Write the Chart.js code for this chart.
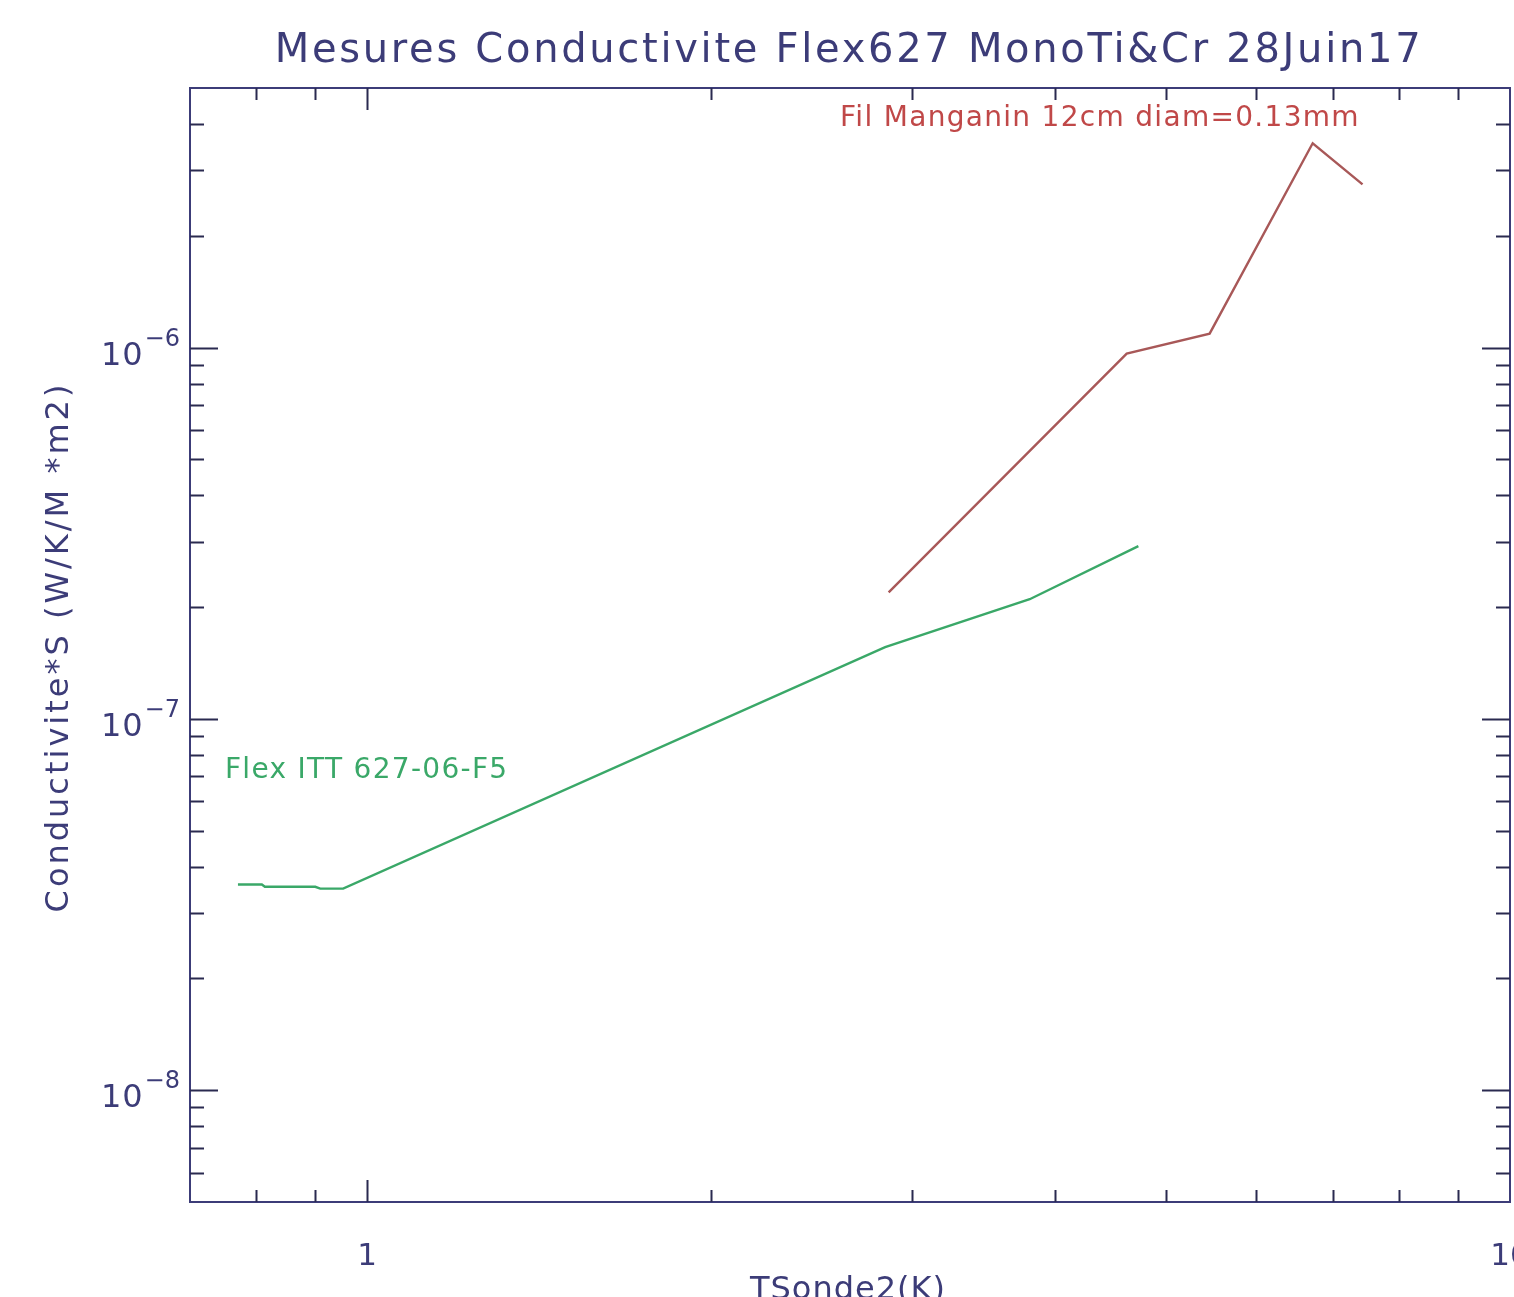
<!DOCTYPE html>
<html>
<head>
<meta charset="utf-8">
<script src="https://cdn.jsdelivr.net/npm/chart.js@4"></script>
<style>
  body { margin: 0; background: #fff; }
</style>
</head>
<body>
<canvas id="chart" width="1514" height="1297"></canvas>
<script>
const titleText = "Mesures Conductivite Flex627 MonoTi&Cr 28Juin17";
const xTitle = "TSonde2(K)";
const yTitle = "Conductivite*S (W/K/M *m2)";

// Flex ITT sample
const flexLabel = "Flex ITT 627-06-F5";
const flexT = [0.771, 0.809, 0.814, 0.901, 0.910, 0.953, 2.84, 3.80, 4.73];
const flexK = [3.58e-8, 3.58e-8, 3.53e-8, 3.53e-8, 3.49e-8, 3.49e-8, 1.56e-7, 2.10e-7, 2.92e-7];

// manganin wire reference
const wireLabel = "Fil Manganin 12cm diam=0.13mm";
const wireT = [2.86, 4.62, 5.46, 6.72, 7.43];
const wireK = [2.19e-7, 9.63e-7, 1.09e-6, 3.55e-6, 2.75e-6];

// where the two labels sit (data coords)
const flexLabelAt = [0.751, 7.26e-8];
const wireLabelAt = [2.593, 4.13e-6];

const xMajor = [1, 10];
const xTickLabels = ["1", "10"];
const yMajor = [1e-8, 1e-7, 1e-6];
const yExponents = ["−8", "−7", "−6"];

const axisColor = "#3c3c78";
const font = "DejaVu Sans";

function minorTicks(min, max) {
    let out = [];
    for (let d = Math.floor(Math.log10(min)); d <= Math.ceil(Math.log10(max)); d++) {
        for (let m = 1; m <= 9; m++) {
            const v = m * Math.pow(10, d);
            if (v > min * 1.0001 && v < max * 0.9999) out.push({ v, major: m === 1 });
        }
    }
    return out;
}

const framePlugin = {
    id: "frame",
    afterDraw(chart) {
        const ctx = chart.ctx;
        const a = chart.chartArea;
        const xs = chart.scales.x, ys = chart.scales.y;
        ctx.save();
        ctx.strokeStyle = axisColor;
        ctx.lineWidth = 2;
        ctx.strokeRect(a.left, a.top, a.right - a.left, a.bottom - a.top);

        ctx.strokeStyle = "#2a2a50";
        ctx.beginPath();
        minorTicks(xs.min, xs.max).forEach(t => {
            const px = Math.round(xs.getPixelForValue(t.v)) + 0.5;
            const len = t.major ? 22 : 12;
            ctx.moveTo(px, a.bottom); ctx.lineTo(px, a.bottom - len);
            ctx.moveTo(px, a.top); ctx.lineTo(px, a.top + len);
        });
        minorTicks(ys.min, ys.max).forEach(t => {
            const py = Math.round(ys.getPixelForValue(t.v)) + 0.5;
            const len = t.major ? 28 : 14;
            ctx.moveTo(a.left, py); ctx.lineTo(a.left + len, py);
            ctx.moveTo(a.right, py); ctx.lineTo(a.right - len, py);
        });
        ctx.stroke();

        // y tick labels: 10 with raised exponent
        ctx.fillStyle = axisColor;
        ctx.textBaseline = "alphabetic";
        ctx.textAlign = "right";
        yMajor.forEach((v, i) => {
            const py = ys.getPixelForValue(v);
            ctx.font = "24px '" + font + "'";
            ctx.letterSpacing = "0px";
            ctx.fillText(yExponents[i], a.left - 10, py - 2);
            const ew = ctx.measureText(yExponents[i]).width;
            ctx.font = "32px '" + font + "'";
            ctx.letterSpacing = "1px";
            ctx.fillText("10", a.left - 10 - ew - 1, py + 17);
        });

        // title and axis titles
        ctx.textAlign = "center";
        ctx.textBaseline = "middle";
        ctx.font = "40px '" + font + "'";
        ctx.letterSpacing = "2.7px";
        ctx.fillText(titleText, 849, 52);
        ctx.font = "32px '" + font + "'";
        ctx.letterSpacing = "1px";
        ctx.fillText(xTitle, 848, 1291);

        ctx.save();
        ctx.translate(60, 647);
        ctx.rotate(-Math.PI / 2);
        ctx.font = "32px '" + font + "'";
        ctx.letterSpacing = "3px";
        ctx.fillText(yTitle, 0, 0);
        ctx.restore();

        // curve labels
        ctx.textAlign = "left";
        ctx.font = "28px '" + font + "'";
        ctx.letterSpacing = "1.3px";
        ctx.fillStyle = "#c04848";
        ctx.fillText(wireLabel, xs.getPixelForValue(wireLabelAt[0]), ys.getPixelForValue(wireLabelAt[1]));
        ctx.fillStyle = "#3aa868";
        ctx.fillText(flexLabel, xs.getPixelForValue(flexLabelAt[0]), ys.getPixelForValue(flexLabelAt[1]));
        ctx.restore();
    }
};

const ctx = document.getElementById("chart").getContext("2d");
new Chart(ctx, {
    type: "scatter",
    data: {
        datasets: [
            {
                label: flexLabel,
                data: flexT.map((t, i) => ({ x: t, y: flexK[i] })),
                showLine: true,
                borderColor: "#3aa868",
                borderWidth: 2.4,
                pointRadius: 0,
                tension: 0
            },
            {
                label: wireLabel,
                data: wireT.map((t, i) => ({ x: t, y: wireK[i] })),
                showLine: true,
                borderColor: "#a85858",
                borderWidth: 2.4,
                pointRadius: 0,
                tension: 0
            }
        ]
    },
    options: {
        responsive: false,
        animation: false,
        devicePixelRatio: 1,
        layout: { autoPadding: false, padding: { top: 88, right: 4, left: 0, bottom: 0 } },
        plugins: { legend: { display: false }, title: { display: false }, tooltip: { enabled: false } },
        scales: {
            x: {
                type: "logarithmic",
                min: 0.70,
                max: 10,
                grid: { display: false },
                border: { display: false },
                afterBuildTicks: s => { s.ticks = xMajor.map(v => ({ value: v })); },
                afterFit: s => { s.height = 95; s.paddingLeft = 0; s.paddingRight = 0; },
                ticks: {
                    autoSkip: false,
                    maxRotation: 0,
                    padding: 28,
                    color: axisColor,
                    font: { family: font, size: 31 },
                    callback: (v, i) => xTickLabels[i]
                }
            },
            y: {
                type: "logarithmic",
                min: 5e-9,
                max: 5e-6,
                grid: { display: false },
                border: { display: false },
                afterBuildTicks: s => { s.ticks = yMajor.map(v => ({ value: v })); },
                afterFit: s => { s.width = 190; s.paddingTop = 0; s.paddingBottom = 0; },
                ticks: { display: false }
            }
        }
    },
    plugins: [framePlugin]
});
</script>
</body>
</html>
